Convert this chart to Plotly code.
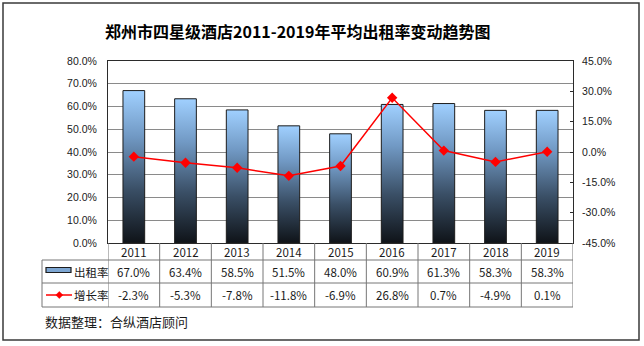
import plotly.graph_objects as go

# ---- data ----
years = ["2011", "2012", "2013", "2014", "2015", "2016", "2017", "2018", "2019"]
occupancy = [67.0, 63.4, 58.5, 51.5, 48.0, 60.9, 61.3, 58.3, 58.3]     # 出租率 (%)
growth = [-2.3, -5.3, -7.8, -11.8, -6.9, 26.8, 0.7, -4.9, 0.1]          # 增长率 (%)
left_ticks = [0, 10, 20, 30, 40, 50, 60, 70, 80]
right_ticks = [-45, -30, -15, 0, 15, 30, 45]

title_text = "郑州市四星级酒店2011-2019年平均出租率变动趋势图"
source_text = "数据整理：合纵酒店顾问"
bar_name = "出租率"
line_name = "增长率"

# ---- layout geometry (pixels) ----
W, H = 644, 346
PL, PR, PT, PB = 108, 573, 61, 243          # plot area box
CJK = "Noto Sans CJK SC"
NUM = "Liberation Sans, Arial"


def px(x):
    return (x - PL) / (PR - PL)


def py(y):
    return (PB - y) / (PB - PT)


fig = go.Figure()

# gradient-filled bars, one trace each so each bar gets its own gradient
half = 0.21
grad = [[0.0, "#0f1318"], [0.35, "#3a4f66"], [0.7, "#7199c4"], [1.0, "#a0d0ff"]]
for i, v in enumerate(occupancy):
    fig.add_trace(go.Scatter(
        x=[i - half, i - half, i + half, i + half, i - half],
        y=[0, v, v, 0, 0],
        mode="lines", fill="toself",
        fillgradient=dict(type="vertical", colorscale=grad, start=0, stop=v),
        line=dict(color="#1c1c1c", width=1),
        hoverinfo="skip", showlegend=False, yaxis="y",
    ))

# growth-rate line on the secondary axis
fig.add_trace(go.Scatter(
    x=list(range(len(years))), y=growth, yaxis="y2",
    mode="lines+markers",
    line=dict(color="#ff0000", width=1.5),
    marker=dict(symbol="diamond", size=8, color="#ff0000"),
    showlegend=False, name=line_name,
))

fig.update_layout(
    width=W, height=H,
    margin=dict(l=PL, r=W - PR, t=PT, b=H - PB, pad=0),
    paper_bgcolor="white", plot_bgcolor="white",
    showlegend=False,
    xaxis=dict(range=[-0.5, len(years) - 0.5], showticklabels=False, ticks="",
               showgrid=False, zeroline=False, showline=True, mirror=True,
               linecolor="#2b2b2b", linewidth=1, fixedrange=True),
    yaxis=dict(range=[0, 80], tickvals=left_ticks,
               ticktext=[f"{t:.1f}%" for t in left_ticks],
               showgrid=True, gridcolor="#8a8a8a", gridwidth=1,
               zeroline=False, showline=True, linecolor="#2b2b2b", linewidth=1,
               ticks="", ticklabelstandoff=8,
               tickfont=dict(family=NUM, size=10.5, color="#1a1a1a")),
    yaxis2=dict(range=[-45, 45], tickvals=right_ticks,
                ticktext=[f"{t:.1f}%" for t in right_ticks],
                overlaying="y", side="right", showgrid=False, zeroline=False,
                showline=True, linecolor="#2b2b2b", linewidth=1,
                ticks="inside", ticklen=3, tickcolor="#2b2b2b",
                ticklabelstandoff=6,
                tickfont=dict(family=NUM, size=10.5, color="#1a1a1a")),
)

shapes = []
annotations = []
grid_col = "#767676"

# outer frame
shapes.append(dict(type="rect", xref="paper", yref="paper",
                   x0=px(3), x1=px(639), y0=py(340), y1=py(3),
                   line=dict(color="#3a3a3a", width=1.5), layer="below"))

# data table
row_y = [243, 260, 283, 307]
tab_left = 42
for yy in row_y[1:]:
    shapes.append(dict(type="line", xref="paper", yref="paper",
                       x0=px(tab_left), x1=px(PR), y0=py(yy), y1=py(yy),
                       line=dict(color=grid_col, width=1)))
for k in range(len(years) + 1):
    shapes.append(dict(type="line", xref="x", yref="paper",
                       x0=k - 0.5, x1=k - 0.5, y0=py(row_y[0]), y1=py(row_y[-1]),
                       line=dict(color=grid_col, width=1)))
shapes.append(dict(type="line", xref="paper", yref="paper",
                   x0=px(tab_left), x1=px(tab_left), y0=py(row_y[1]), y1=py(row_y[-1]),
                   line=dict(color=grid_col, width=1)))

# legend keys inside the table
shapes.append(dict(type="rect", xref="paper", yref="paper",
                   x0=px(46), x1=px(71), y0=py(272.5), y1=py(267.5),
                   fillcolor="#7da6d2", line=dict(color="#1c1c1c", width=1.2)))
shapes.append(dict(type="line", xref="paper", yref="paper",
                   x0=px(46), x1=px(72), y0=py(295), y1=py(295),
                   line=dict(color="#ff0000", width=1.5)))
shapes.append(dict(type="path", xref="paper", yref="paper",
                   path=(f"M {px(59.3)},{py(291.5)} L {px(62.8)},{py(295)} "
                         f"L {px(59.3)},{py(298.5)} L {px(55.8)},{py(295)} Z"),
                   fillcolor="#ff0000", line=dict(color="#ff0000", width=0.5)))

cell_font = dict(family=CJK, size=11.5, color="#1a1a1a")
row_mid = [(row_y[j] + row_y[j + 1]) / 2 for j in range(3)]
for i, yr in enumerate(years):
    annotations.append(dict(xref="x", yref="paper", x=i, y=py(row_mid[0]),
                            text=yr, showarrow=False, font=cell_font,
                            xanchor="center", yanchor="middle"))
    annotations.append(dict(xref="x", yref="paper", x=i, y=py(row_mid[1]),
                            text=f"{occupancy[i]:.1f}%", showarrow=False, font=cell_font,
                            xanchor="center", yanchor="middle"))
    annotations.append(dict(xref="x", yref="paper", x=i, y=py(row_mid[2]),
                            text=f"{growth[i]:.1f}%", showarrow=False, font=cell_font,
                            xanchor="center", yanchor="middle"))
annotations.append(dict(xref="paper", yref="paper", x=px(72), y=py(row_mid[1]),
                        text=bar_name, showarrow=False, font=cell_font,
                        xanchor="left", yanchor="middle"))
annotations.append(dict(xref="paper", yref="paper", x=px(72), y=py(row_mid[2]),
                        text=line_name, showarrow=False, font=cell_font,
                        xanchor="left", yanchor="middle"))

# title and source note
annotations.append(dict(xref="paper", yref="paper", x=px(297), y=py(31),
                        text=f"<b>{title_text}</b>", showarrow=False,
                        font=dict(family=CJK, size=16, color="#000000"),
                        xanchor="center", yanchor="middle"))
annotations.append(dict(xref="paper", yref="paper", x=px(43), y=py(321),
                        text=source_text, showarrow=False,
                        font=dict(family=CJK, size=13, color="#1a1a1a"),
                        xanchor="left", yanchor="middle"))

fig.update_layout(shapes=shapes, annotations=annotations)
fig.write_html("out.html", config={"displayModeBar": False})
